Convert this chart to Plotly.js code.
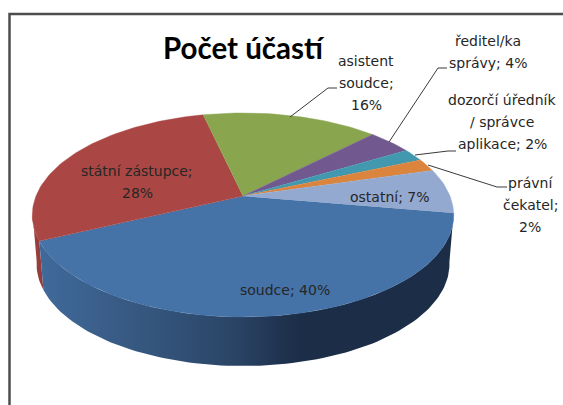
<!DOCTYPE html>
<html><head><meta charset="utf-8">
<script src="https://cdn.plot.ly/plotly-3.0.1.min.js"></script>
<style>html,body{margin:0;padding:0;background:#fff;overflow:hidden}</style>
</head><body><div id="chart" style="width:563px;height:405px"></div>
<script>
// Data (clockwise from the start of "soudce")
const categories = ['soudce','státní zástupce','asistent soudce','ředitel/ka správy','dozorčí úředník / správce aplikace','právní čekatel','ostatní'];
const percents = [40,28,16,4,2,2,7];
const sliceColors = ['#4572A7','#AA4643','#89A54E','#71588F','#4198AF','#DB843D','#93A9CF'];
const labelLines = [
  ['soudce; 40%'],
  ['státní zástupce;','28%'],
  ['asistent','soudce;','16%'],
  ['ředitel/ka','správy; 4%'],
  ['dozorčí úředník','/ správce','aplikace; 2%'],
  ['právní','čekatel;','2%'],
  ['ostatní; 7%']
];
const labelAnchorX = [285,137,366,488,502,530,390];
const labelAnchorY = [290,171,61,41,100,183,197];
const LINE_GAP = 22;
const leaderPaths = [
  'M290,117 L328,88 L337,88',
  'M389,142 L438,68 L447,68',
  'M415,155 L448,151 L456,151',
  'M428,165 L497,187 L507,187'
];

// Projection of the tilted disc
const apex = {x:243, y:196}, B = 207, A = 98.5, K = 0.186;
const startDeg = -9.6, DEPTH = 49, BOTTOM_SCALE = 0.98;
function rim(deg, bottom){
  const t = deg*Math.PI/180, c = Math.cos(t), d = Math.sin(t), w = 1 + K*d;
  const s = bottom ? BOTTOM_SCALE : 1;
  return [apex.x + s*B*c/w, apex.y - A*d/w + (bottom ? DEPTH : 0)];
}
function arc(a, b, bottom){
  const n = Math.max(2, Math.ceil(Math.abs(b-a)/1.5)), out = [];
  for(let i=0;i<=n;i++) out.push(rim(a+(b-a)*i/n, bottom));
  return out;
}
const total = percents.reduce((p,q)=>p+q,0);
let cur = startDeg;
const spans = percents.map(v=>{ const a=cur; cur -= v/total*360; return [a,cur]; });

const base = {type:'scatter', mode:'lines', line:{width:0}, fill:'toself', hoverinfo:'skip', showlegend:false};
const traces = [];

function wall(a, b, gradient){
  const pts = arc(a,b,false).concat(arc(b,a,true));
  traces.push(Object.assign({}, base, {
    x: pts.map(p=>p[0]), y: pts.map(p=>p[1]),
    fillgradient: gradient
  }));
}
// side walls: red sliver at the far left, blue across the front
wall(spans[1][0], -171, {type:'horizontal', start:30, stop:45, colorscale:[[0,'#a04240'],[1,'#8f3b39']]});
wall(spans[0][0], spans[0][1], {type:'horizontal', start:39, stop:300, colorscale:[
  [0,'#406a9b'],[0.25,'#3a5e89'],[0.5,'#325278'],[0.75,'#2b4466'],[0.93,'#1f334f'],[1,'#1c2e47']
]});
// top faces
spans.forEach((s,i)=>{
  const pts = [[apex.x,apex.y]].concat(arc(s[0],s[1],false));
  traces.push(Object.assign({}, base, {
    x: pts.map(p=>p[0]), y: pts.map(p=>p[1]),
    fillcolor: sliceColors[i], line:{width:0.4,color:sliceColors[i]},
    name: categories[i]
  }));
});

const annotations = [];
labelLines.forEach((lines,i)=>lines.forEach((t,j)=>annotations.push({
  x: labelAnchorX[i], y: labelAnchorY[i]+j*LINE_GAP, xref:'x', yref:'y',
  text:t, showarrow:false, xanchor:'center', yanchor:'middle',
  font:{family:'DejaVu Sans, sans-serif', size:14, color:'#262626'}
})));

const shapes = leaderPaths.map(p=>({type:'path', path:p, xref:'x', yref:'y', line:{color:'#3a3a3a',width:1}}));
shapes.push({type:'path', path:'M9.5,405 L9.5,14 L563,14', xref:'x', yref:'y', line:{color:'#4d4d4d',width:2.5}});

Plotly.newPlot('chart', traces, {
  width:563, height:405, margin:{l:0,r:0,t:0,b:0},
  paper_bgcolor:'#fff', plot_bgcolor:'#fff',
  xaxis:{range:[0,563], visible:false, fixedrange:true},
  yaxis:{range:[405,0], visible:false, fixedrange:true},
  title:{text:'<b>Počet účastí</b>', x:243/563, xanchor:'center', y:1-49/405, yanchor:'middle',
         font:{family:'Lato, sans-serif', size:29.5, color:'#000'}},
  annotations, shapes, showlegend:false, hovermode:false
}, {displayModeBar:false, staticPlot:true});
</script></body></html>
